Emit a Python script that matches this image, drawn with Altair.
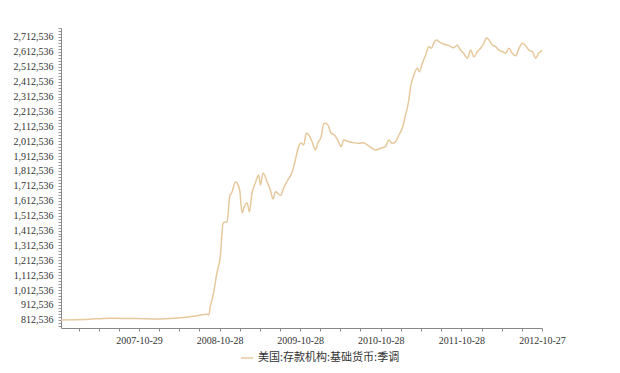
import altair as alt
import pandas as pd

dates = [
    "2006-11-10", "2007-02-26", "2007-06-20", "2007-10-11", "2008-02-01", "2008-05-15",
    "2008-07-09", "2008-09-02", "2008-09-09", "2008-09-16", "2008-10-01", "2008-10-16",
    "2008-10-31", "2008-11-13", "2008-11-23", "2008-12-01", "2008-12-13", "2008-12-24",
    "2009-01-08", "2009-01-15", "2009-01-27", "2009-02-07", "2009-02-17", "2009-03-02",
    "2009-03-12", "2009-03-24", "2009-04-08", "2009-04-23", "2009-05-01", "2009-05-13",
    "2009-05-31", "2009-06-15", "2009-06-27", "2009-07-08", "2009-07-31", "2009-08-14",
    "2009-08-30", "2009-09-22", "2009-10-06", "2009-10-21", "2009-11-01", "2009-11-13",
    "2009-11-25", "2009-12-06", "2009-12-21", "2010-01-05", "2010-01-16", "2010-01-31",
    "2010-02-12", "2010-02-24", "2010-03-06", "2010-03-17", "2010-04-01", "2010-04-16",
    "2010-05-02", "2010-05-13", "2010-06-05", "2010-06-28", "2010-07-20", "2010-08-12",
    "2010-08-28", "2010-09-19", "2010-10-04", "2010-10-27", "2010-11-18", "2010-12-03",
    "2010-12-19", "2011-01-03", "2011-01-18", "2011-02-02", "2011-02-17", "2011-03-04",
    "2011-03-12", "2011-03-27", "2011-04-11", "2011-04-21", "2011-05-04", "2011-05-19",
    "2011-06-03", "2011-06-14", "2011-06-25", "2011-07-06", "2011-07-18", "2011-08-10",
    "2011-09-01", "2011-09-24", "2011-10-09", "2011-10-24", "2011-11-08", "2011-11-24",
    "2011-12-09", "2011-12-24", "2012-01-08", "2012-01-23", "2012-02-07", "2012-02-18",
    "2012-03-01", "2012-03-16", "2012-03-31", "2012-04-15", "2012-05-01", "2012-05-15",
    "2012-05-30", "2012-06-15", "2012-06-30", "2012-07-15", "2012-07-30", "2012-08-14",
    "2012-08-29", "2012-09-14", "2012-09-29", "2012-10-11", "2012-10-24", "2012-10-27",
]

values = [
    812536, 815000, 824000, 822000, 819000, 828000,
    839000, 850000, 846000, 902000, 994000, 1128000,
    1235000, 1463000, 1470000, 1470000, 1640000, 1673000,
    1740000, 1732000, 1685000, 1531000, 1573000, 1598000,
    1539000, 1665000, 1732000, 1786000, 1718000, 1799000,
    1740000, 1685000, 1624000, 1673000, 1648000, 1698000,
    1745000, 1806000, 1886000, 1976000, 2000000, 1987000,
    2068000, 2054000, 2009000, 1953000, 2000000, 2043000,
    2132000, 2132000, 2110000, 2065000, 2054000, 2020000,
    1976000, 2020000, 2009000, 2002000, 1998000, 2002000,
    1987000, 1965000, 1953000, 1965000, 1976000, 2020000,
    1998000, 2009000, 2054000, 2099000, 2188000, 2289000,
    2378000, 2457000, 2502000, 2479000, 2535000, 2591000,
    2647000, 2636000, 2670000, 2692000, 2681000, 2663000,
    2654000, 2640000, 2658000, 2624000, 2602000, 2569000,
    2624000, 2579000, 2613000, 2636000, 2670000, 2707000,
    2692000, 2658000, 2647000, 2624000, 2613000, 2602000,
    2636000, 2602000, 2586000, 2636000, 2670000, 2654000,
    2624000, 2613000, 2569000, 2602000, 2618000, 2624000,
]

series_name = "美国:存款机构:基础货币:季调"

# quarterly tick dates (labels shown on the October ones)
tick_dates = [
    (2007, 1, 29), (2007, 4, 29), (2007, 7, 29), (2007, 10, 29),
    (2008, 1, 28), (2008, 4, 28), (2008, 7, 28), (2008, 10, 28),
    (2009, 1, 28), (2009, 4, 28), (2009, 7, 28), (2009, 10, 28),
    (2010, 1, 28), (2010, 4, 28), (2010, 7, 28), (2010, 10, 28),
    (2011, 1, 28), (2011, 4, 28), (2011, 7, 28), (2011, 10, 28),
    (2012, 1, 28), (2012, 4, 28), (2012, 7, 28), (2012, 10, 27),
]

y_label_base = 812536
y_ticks = [772536 + 20000 * i for i in range(101)]

df = pd.DataFrame({"date": dates, "value": values, "series": series_name})

font = "Liberation Serif"

x_axis = alt.Axis(
    title=None,
    values=[alt.DateTime(year=y, month=m, date=d) for (y, m, d) in tick_dates],
    labelExpr="month(datum.value) == 9 ? timeFormat(datum.value, '%Y-%m-%d') : ''",
    grid=False,
    domainColor="#888888",
    tickColor="#888888",
    tickSize=3,
    labelFont=font,
    labelFontSize=10,
    labelColor="#333333",
    labelPadding=4,
    labelFlush=False,
    labelOverlap=False,
)

y_axis = alt.Axis(
    title=None,
    values=y_ticks,
    labelExpr="(datum.value - %d) %% 100000 == 0 ? format(datum.value, ',d') : ''" % y_label_base,
    grid=False,
    domainColor="#888888",
    tickColor="#999999",
    tickSize=3,
    labelFont=font,
    labelFontSize=10,
    labelColor="#333333",
    labelPadding=5,
    labelOverlap=False,
)

chart = (
    alt.Chart(df)
    .mark_line(strokeWidth=1.5, interpolate="monotone")
    .encode(
        x=alt.X(
            "date:T",
            axis=x_axis,
            scale=alt.Scale(
                domain=[alt.DateTime(year=2006, month=11, date=10), alt.DateTime(year=2012, month=10, date=27)]
            ),
        ),
        y=alt.Y("value:Q", axis=y_axis, scale=alt.Scale(domain=[758000, 2772536], nice=False, zero=False)),
        color=alt.Color(
            "series:N",
            scale=alt.Scale(range=["#e6c89c"]),
            legend=alt.Legend(
                title=None,
                orient="none",
                legendX=179,
                legendY=323,
                symbolType="stroke",
                symbolSize=150,
                symbolStrokeWidth=1.5,
                labelFont="Noto Sans CJK SC",
                labelFontSize=11,
                labelColor="#333333",
            ),
        ),
    )
    .properties(
        width=481,
        height=300,
        autosize=alt.AutoSizeParams(type="none"),
        padding={"left": 61, "top": 28, "right": 78, "bottom": 45},
        background="white",
    )
    .configure_view(stroke=None)
)

chart.save("out.html", embed_options={"renderer": "svg", "actions": False})
